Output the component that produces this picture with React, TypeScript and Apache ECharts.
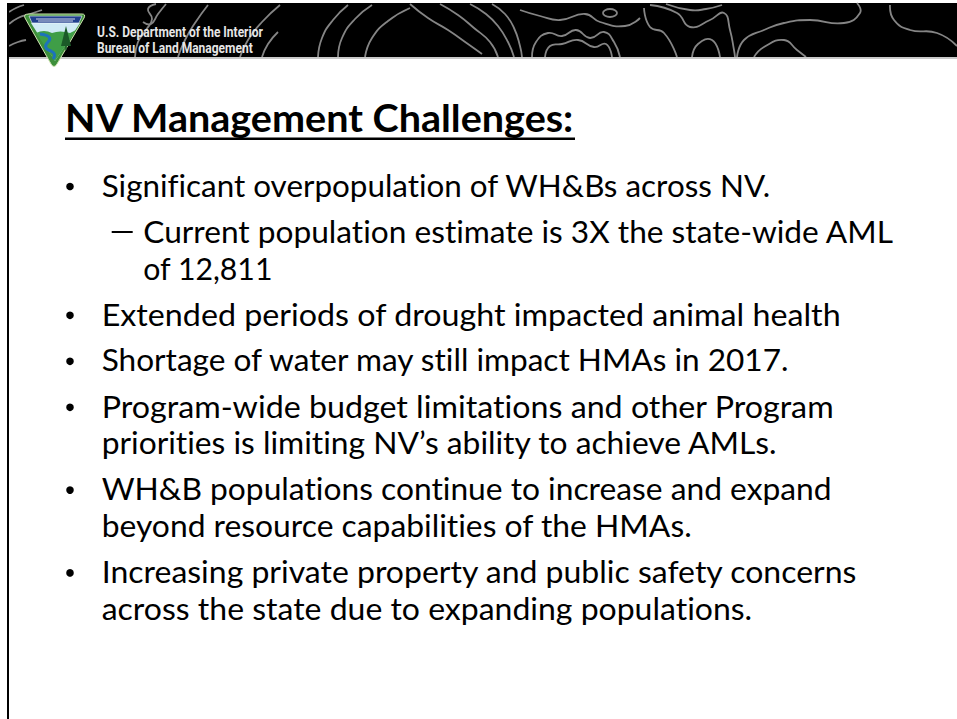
import React, { useEffect, useRef } from "react";
import * as echarts from "echarts";

// ---- content ----
const headerLines = ["U.S. Department of the Interior", "Bureau of Land Management"];
const titleText = "NV Management Challenges:";
const bulletLevels = [1, 2, 1, 1, 1, 1, 1];
const bulletTexts: string[][] = [
  ["Significant overpopulation of WH&Bs across NV."],
  ["Current population estimate is 3X the state-wide AML", "of 12,811"],
  ["Extended periods of drought impacted animal health"],
  ["Shortage of water may still impact HMAs in 2017."],
  ["Program-wide budget limitations and other Program", "priorities is limiting NV\u2019s ability to achieve AMLs."],
  ["WH&B populations continue to increase and expand", "beyond resource capabilities of the HMAs."],
  ["Increasing private property and public safety concerns", "across the state due to expanding populations."],
];

// ---- layout: right edge of each text line in the slide (px) ----
const lineRightEdges: number[][] = [
  [771.7],
  [895, 273],
  [841.7],
  [791.7],
  [835, 780],
  [833, 693],
  [858, 753],
];

// ---- decorative topographic contour lines in the header ----
const contours: number[][][] = [
  [[9, 24], [18, 18], [30, 14], [42, 10]],
  [[9, 46], [18, 42], [26, 40]],
  [[9, 12], [16, 8], [24, 5]],
  [[135, 57], [138, 42], [146, 30], [152, 19], [148, 9], [156, 4]],
  [[143, 22], [151, 24], [158, 14], [166, 4]],
  [[178, 57], [185, 40], [195, 23], [208, 5]],
  [[240, 57], [248, 40], [262, 22], [280, 5]],
  [[262, 57], [268, 44], [278, 32]],
  [[318, 57], [322, 38], [333, 20], [348, 5]],
  [[338, 57], [342, 38], [355, 19], [372, 5]],
  [[365, 57], [372, 38], [388, 21], [410, 8]],
  [[410, 4], [428, 18], [448, 30], [468, 44], [482, 54]],
  [[440, 4], [458, 15], [474, 28], [490, 42], [498, 57]],
  [[470, 4], [486, 14], [498, 26], [508, 42], [514, 57]],
  [[492, 4], [505, 14], [514, 28], [520, 46], [522, 57]],
  [[532, 57], [536, 42], [548, 33], [562, 36], [576, 30], [590, 38], [604, 32], [614, 42], [620, 57]],
  [[545, 57], [550, 46], [562, 44], [578, 40], [594, 47], [606, 44], [612, 57]],
  [[520, 10], [540, 16], [560, 20], [585, 14], [600, 22], [625, 26], [640, 18]],
  [[644, 8], [650, 27], [664, 33], [677, 57]],
  [[650, 5], [677, 13], [690, 27], [710, 20], [724, 13], [730, 30], [734, 50], [735, 57]],
  [[666, 4], [690, 10], [706, 9], [722, 5]],
  [[692, 57], [698, 44], [712, 40], [720, 57]],
  [[737, 57], [744, 40], [764, 30], [784, 23], [810, 20], [844, 23], [860, 13], [857, 3]],
  [[754, 57], [764, 47], [784, 40], [797, 50], [806, 57]],
  [[890, 5], [894, 20], [910, 30], [937, 33], [957, 46]],
];

// ---- logo shapes (BLM shield) ----
const logoShapes: { name: string; d: string; style: any }[] = [
  { name: "blmOuter", d: "M29,14 L82,14 Q86,14 84,18 L57,64 Q54,69 51,64 L25,18 Q23,14 29,14 Z", style: { fill: "#3d8f3a", stroke: "#cfe3b0", lineWidth: 1 } },
  { name: "blmSky", d: "M31,23 L80,23 L55,61 Z", style: { fill: "#cfeaf5" } },
  { name: "blmBand", d: "M29,16 L82,16 L79,23 L32,23 Z", style: { fill: "#1f3f8e", stroke: "#ffffff", lineWidth: 0.6 } },
  { name: "blmHills", d: "M36,33 Q44,29 52,33 Q60,30 70,33 L76,30 L55,61 Z", style: { fill: "#3f9e47" } },
  { name: "blmRiver", d: "M40,34 Q54,36 48,42 Q42,48 51,51 Q57,54 53,59", style: { fill: "none", stroke: "#1d73bb", lineWidth: 3 } },
  { name: "blmTree", d: "M66,26 L71,46 L61,46 Z M65.2,46 L66.8,46 L66.8,50 L65.2,50 Z", style: { fill: "#1b5a28" } },
];

// ---- typography ----
const BODY_FONT = "Lato";
const BODY_SIZE = 30;
const TITLE_SIZE = 38;
const HEADER_SIZE = 15;

function measure(text: string, font: string): number {
  const ctx = document.createElement("canvas").getContext("2d")!;
  ctx.font = font;
  return ctx.measureText(text).width;
}

let registered = false;
function registerShapes() {
  if (registered) return;
  registered = true;
  logoShapes.forEach((s) => {
    echarts.graphic.registerShape(s.name, echarts.graphic.extendPath(s.d, {}) as any);
  });
}

function buildElements(): any[] {
  const els: any[] = [];
  // header band
  els.push({ type: "rect", shape: { x: 9, y: 3, width: 948, height: 54 }, style: { fill: "#000000" } });
  contours.forEach((pts) => {
    els.push({
      type: "polyline",
      shape: { points: pts, smooth: 0.5 },
      style: { stroke: "#858585", lineWidth: 1.8, fill: null },
    });
  });
  els.push({ type: "ellipse", shape: { cx: 610, cy: 13, rx: 7, ry: 4 }, style: { stroke: "#858585", lineWidth: 1.8, fill: null } });
  els.push({ type: "rect", shape: { x: 9, y: 57, width: 948, height: 2 }, style: { fill: "#c9c9c9" } });
  // left border
  els.push({ type: "rect", shape: { x: 7, y: 3, width: 2, height: 716 }, style: { fill: "#000000" } });
  // logo
  logoShapes.forEach((s) => {
    els.push({ type: s.name, x: 0, y: 0, style: s.style });
  });
  els.push({ type: "rect", shape: { x: 36, y: 18.5, width: 39, height: 1 }, style: { fill: "#ffffff", opacity: 0.8 } });
  els.push({ type: "rect", shape: { x: 38, y: 20.5, width: 35, height: 1 }, style: { fill: "#ffffff", opacity: 0.8 } });

  // header text
  const hFont = `bold ${HEADER_SIZE}px Roboto`;
  const hScale = 166 / measure(headerLines[0], hFont);
  const hBase = [36, 52.5];
  headerLines.forEach((t, i) => {
    els.push({
      type: "text",
      x: 97,
      y: hBase[i] - 0.334 * HEADER_SIZE,
      scaleX: hScale,
      style: { text: t, font: hFont, fill: "#e6e6e6", textAlign: "left", textVerticalAlign: "middle", verticalAlign: "middle" },
    });
  });

  // title
  const tFont = `bold ${TITLE_SIZE}px ${BODY_FONT}`;
  const tScale = 510 / measure(titleText, tFont);
  const titleBase = 132;
  els.push({
    type: "text",
    x: 65,
    y: titleBase - 0.387 * TITLE_SIZE,
    scaleX: tScale,
    style: { text: titleText, font: tFont, fill: "#000000", textAlign: "left", textVerticalAlign: "middle", verticalAlign: "middle" },
  });
  els.push({ type: "rect", shape: { x: 65, y: 137.5, width: 510, height: 2.5 }, style: { fill: "#000000" } });

  // bullets
  const bFont = `${BODY_SIZE}px ${BODY_FONT}`;
  const lineStep = 36.8;
  const paraStep = 46;
  let base = 197;
  bulletTexts.forEach((lines, pi) => {
    const level = bulletLevels[pi];
    const textX = level === 1 ? 101.7 : 143.3;
    if (level === 1) {
      els.push({ type: "circle", shape: { cx: 70, cy: base - 10.5, r: 3.8 }, style: { fill: "#000000" } });
    } else {
      els.push({ type: "rect", shape: { x: 111.7, y: base - 12, width: 21, height: 2 }, style: { fill: "#000000" } });
    }
    lines.forEach((ln, li) => {
      const b = base + li * lineStep;
      const s = (lineRightEdges[pi][li] - textX) / measure(ln, bFont);
      els.push({
        type: "text",
        x: textX,
        y: b - 0.387 * BODY_SIZE,
        scaleX: s,
        style: { text: ln, font: bFont, fill: "#000000", textAlign: "left", textVerticalAlign: "middle", verticalAlign: "middle" },
      });
    });
    base += (lines.length - 1) * lineStep + paraStep;
  });
  return els;
}

const noLigatureCss =
  "#slide-chart svg text, #slide-chart svg tspan { font-variant-ligatures: none !important; font-feature-settings: 'liga' 0, 'clig' 0, 'dlig' 0 !important; }";

export default function App() {
  const ref = useRef<HTMLDivElement>(null);
  useEffect(() => {
    if (!ref.current) return;
    registerShapes();
    const chart = echarts.init(ref.current, null, { renderer: "svg" });
    chart.setOption({
      animation: false,
      backgroundColor: "#ffffff",
      graphic: { elements: buildElements() },
    });
    return () => chart.dispose();
  }, []);
  return (
    <>
      <style>{noLigatureCss}</style>
      <div
        id="slide-chart"
        ref={ref}
        style={{
          position: "fixed",
          left: 0,
          top: 0,
          width: 957,
          height: 719,
          background: "#ffffff",
        }}
      />
    </>
  );
}
